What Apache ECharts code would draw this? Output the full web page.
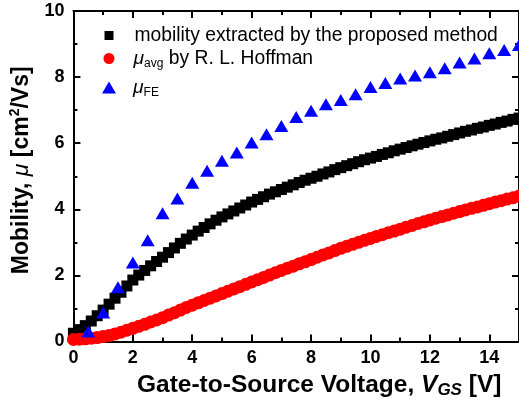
<!DOCTYPE html>
<html><head><meta charset="utf-8">
<script src="https://cdn.jsdelivr.net/npm/echarts@6/dist/echarts.min.js"></script>
<style>html,body{margin:0;padding:0;background:#fff}#c{width:519px;height:404px}</style>
</head><body><div id="c"></div>
<script>
// Gate voltage grid for the dense (black / red) series
const vgsDense = [0,0.2,0.4,0.6,0.8,1,1.2,1.4,1.6,1.8,2,2.2,2.4,2.6,2.8,3,3.2,3.4,3.6,3.8,4,4.2,4.4,4.6,4.8,5,5.2,5.4,5.6,5.8,6,6.2,6.4,6.6,6.8,7,7.2,7.4,7.6,7.8,8,8.2,8.4,8.6,8.8,9,9.2,9.4,9.6,9.8,10,10.2,10.4,10.6,10.8,11,11.2,11.4,11.6,11.8,12,12.2,12.4,12.6,12.8,13,13.2,13.4,13.6,13.8,14,14.2,14.4,14.6,14.8,15];
// mobility extracted by the proposed method
const muProposed = [0.25,0.36,0.48,0.62,0.78,0.95,1.13,1.31,1.49,1.68,1.86,2.01,2.15,2.29,2.42,2.55,2.69,2.83,2.97,3.10,3.22,3.34,3.45,3.56,3.67,3.77,3.86,3.95,4.04,4.13,4.22,4.30,4.38,4.46,4.53,4.60,4.67,4.74,4.81,4.88,4.94,5.00,5.07,5.13,5.20,5.26,5.32,5.38,5.44,5.50,5.55,5.60,5.66,5.71,5.77,5.82,5.87,5.92,5.97,6.02,6.07,6.12,6.16,6.21,6.26,6.31,6.36,6.40,6.45,6.49,6.54,6.58,6.63,6.67,6.72,6.76];
// mu_avg by R. L. Hoffman
const muAvg = [0.06,0.07,0.08,0.10,0.12,0.15,0.18,0.23,0.28,0.34,0.40,0.46,0.52,0.59,0.65,0.72,0.80,0.87,0.95,1.03,1.10,1.17,1.24,1.31,1.38,1.45,1.52,1.59,1.66,1.73,1.80,1.87,1.94,2.01,2.08,2.15,2.22,2.28,2.35,2.41,2.48,2.55,2.62,2.68,2.75,2.82,2.88,2.94,3.00,3.06,3.12,3.18,3.23,3.29,3.34,3.40,3.46,3.51,3.57,3.62,3.68,3.73,3.78,3.83,3.88,3.93,3.98,4.03,4.07,4.12,4.17,4.22,4.26,4.31,4.35,4.40];
// mu_FE sampled every 0.5 V
const vgsFE = [0.5,1,1.5,2,2.5,3,3.5,4,4.5,5,5.5,6,6.5,7,7.5,8,8.5,9,9.5,10,10.5,11,11.5,12,12.5,13,13.5,14,14.5,15];
const muFE = [0.30,0.88,1.64,2.39,3.06,3.88,4.33,4.80,5.17,5.47,5.72,6.02,6.27,6.52,6.79,6.98,7.18,7.31,7.48,7.70,7.82,7.96,8.05,8.15,8.27,8.44,8.56,8.72,8.82,8.97];
const xTicks = [0,2,4,6,8,10,12,14];
const yTicks = [0,2,4,6,8,10];
const seriesNames = ['mobility extracted by the proposed method','μavg by R. L. Hoffman','μFE'];

const pair = (xs, ys) => xs.map((x, i) => [x, ys[i]]);
const FONT = 'Liberation Sans, Arial, sans-serif';

const chart = echarts.init(document.getElementById('c'), null, {renderer: 'canvas'});

const axisCommon = {
  type: 'value',
  axisLine: {show: true, onZero: false, lineStyle: {color: '#000', width: 2}},
  axisTick: {show: true, inside: true, length: 7, lineStyle: {color: '#000', width: 2}},
  minorTick: {show: true, splitNumber: 2, length: 4, lineStyle: {color: '#000', width: 2}},
  splitLine: {show: false},
  minorSplitLine: {show: false}
};
const tickLabel = {color: '#000', fontFamily: FONT, fontWeight: 'bold', fontSize: 18};

const legendRich = {
  t: {fontFamily: FONT, fontSize: 19.3, color: '#000', lineHeight: 22},
  m: {fontFamily: FONT, fontSize: 19.3, fontStyle: 'italic', color: '#000', lineHeight: 22},
  s: {fontFamily: FONT, fontSize: 12, color: '#000', lineHeight: 12, verticalAlign: 'bottom'}
};
function legendFmt(name) {
  if (name === seriesNames[1]) return '{m|μ}{s|avg}{t| by R. L. Hoffman}';
  if (name === seriesNames[2]) return '{m|μ}{s|FE}';
  return '{t|' + name + '}';
}
function mkLegend(name, icon, w, h, left, top, padLeft) {
  return {
    data: [name], left: left, top: top, padding: 0, orient: 'vertical',
    icon: icon, itemWidth: w, itemHeight: h, selectedMode: false,
    formatter: legendFmt,
    textStyle: {padding: [0, 0, 0, padLeft], rich: legendRich}
  };
}

chart.setOption({
  animation: false,
  backgroundColor: '#fff',
  grid: {left: 69, top: 11, right: -3, bottom: 62.5, containLabel: false},
  legend: [
    mkLegend(seriesNames[0], 'rect', 9, 9, 104.5, 26, 16),
    mkLegend(seriesNames[1], 'circle', 11, 11, 103.5, 49, 14),
    mkLegend(seriesNames[2], 'triangle', 14, 12, 102, 78, 12)
  ],
  xAxis: [
    Object.assign({}, axisCommon, {
      position: 'bottom', min: 0, max: 15, interval: 2,
      axisLabel: Object.assign({}, tickLabel, {margin: 8, showMaxLabel: false,
        formatter: v => xTicks.indexOf(v) >= 0 ? String(v) : ''}),
      name: '{b|Gate-to-Source Voltage, }{v|V}{g|GS}{b| [V]}',
      nameLocation: 'middle', nameGap: 29,
      nameTextStyle: {padding: [0, 0, 0, 46], rich: {
        b: {fontFamily: FONT, fontWeight: 'bold', fontSize: 24.5, color: '#000', lineHeight: 28},
        v: {fontFamily: FONT, fontWeight: 'bold', fontStyle: 'italic', fontSize: 24.5, color: '#000', lineHeight: 28},
        g: {fontFamily: FONT, fontWeight: 'bold', fontStyle: 'italic', fontSize: 17, color: '#000', lineHeight: 16, verticalAlign: 'bottom'}
      }}
    }),
    Object.assign({}, axisCommon, {
      position: 'top', min: 0, max: 15, interval: 2, axisLabel: {show: false}
    })
  ],
  yAxis: [
    Object.assign({}, axisCommon, {
      position: 'left', min: 0, max: 10, interval: 2,
      axisLabel: Object.assign({}, tickLabel, {margin: 9,
        formatter: v => yTicks.indexOf(v) >= 0 ? String(v) : ''}),
      name: '{b|Mobility, }{m|μ}{b| [cm}{p|2}{b|/Vs]}',
      nameLocation: 'middle', nameGap: 35, nameRotate: 90,
      nameTextStyle: {padding: [0, 0, 0, 12], rich: {
        b: {fontFamily: FONT, fontWeight: 'bold', fontSize: 23, color: '#000', lineHeight: 28},
        m: {fontFamily: FONT, fontStyle: 'italic', fontSize: 23, color: '#000', lineHeight: 28},
        p: {fontFamily: FONT, fontWeight: 'bold', fontSize: 14, color: '#000', lineHeight: 14, verticalAlign: 'top'}
      }}
    }),
    Object.assign({}, axisCommon, {
      position: 'right', min: 0, max: 10, interval: 2, axisLabel: {show: false}
    })
  ],
  series: [
    {name: seriesNames[0], type: 'scatter', symbol: 'rect', symbolSize: 11,
     itemStyle: {color: '#000000', opacity: 1}, data: pair(vgsDense, muProposed), clip: true, z: 2},
    {name: seriesNames[1], type: 'scatter', symbol: 'circle', symbolSize: 13,
     itemStyle: {color: '#ff0000', opacity: 1}, data: pair(vgsDense, muAvg), clip: true, z: 3},
    {name: seriesNames[2], type: 'scatter', symbol: 'triangle', symbolSize: [14, 12],
     itemStyle: {color: '#0000ff', opacity: 1}, data: pair(vgsFE, muFE), clip: true, z: 4}
  ]
});
</script>
</body></html>
